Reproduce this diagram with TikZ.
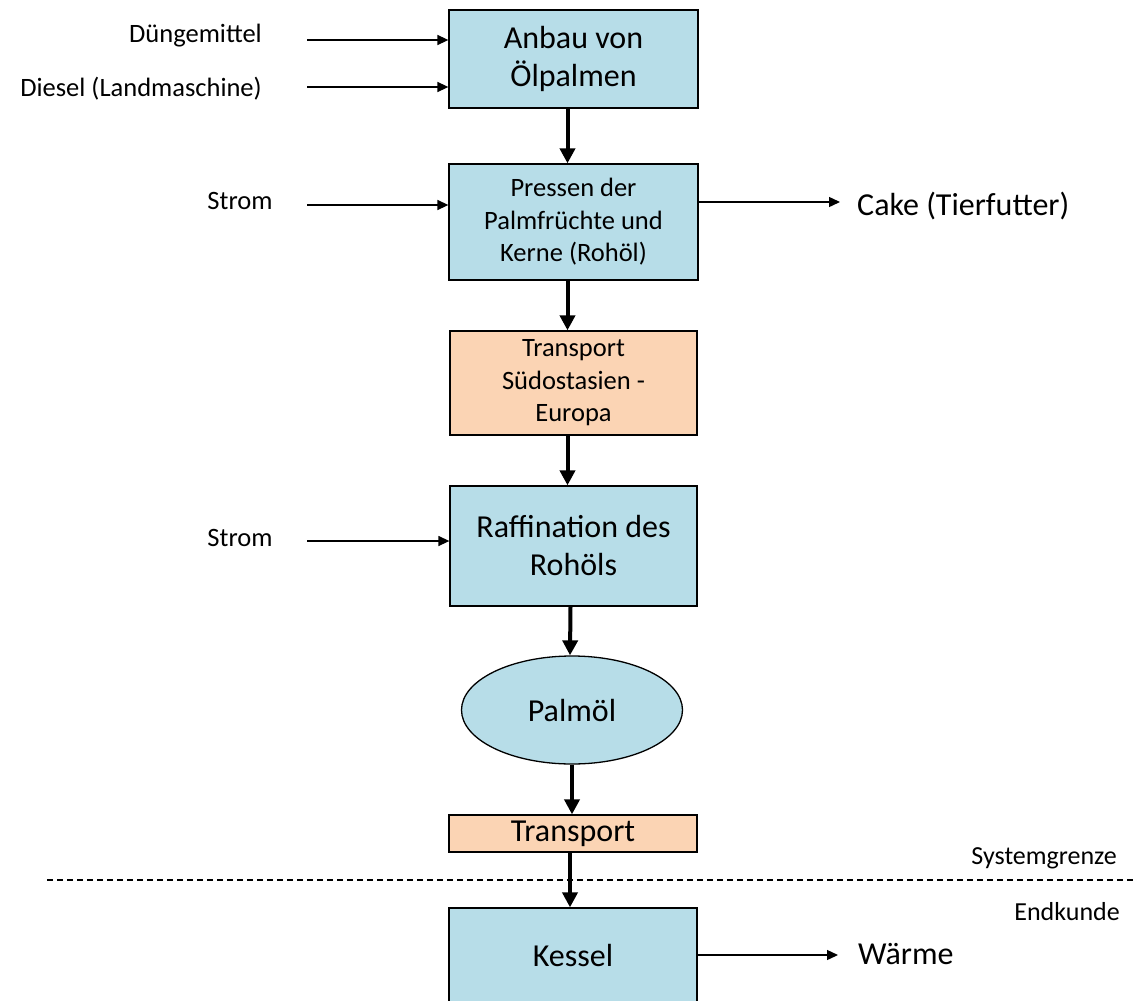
\documentclass[tikz,border=0pt]{standalone}
\usepackage{fontspec}
\setmainfont{Carlito}
\usetikzlibrary{arrows.meta,shapes.geometric}
\definecolor{boxblue}{HTML}{B7DDE8}
\definecolor{boxpeach}{HTML}{FBD4B4}
\tikzset{
  procbox/.style={draw=black, line width=1.3pt, fill=boxblue, align=center, inner sep=0pt},
  transbox/.style={procbox, fill=boxpeach},
  bigtext/.style={font=\fontsize{32}{38}\selectfont},
  smalltext/.style={font=\fontsize{26.5}{32.5}\selectfont},
  lbltext/.style={font=\fontsize{26.5}{30}\selectfont, inner sep=0pt},
  mainflow/.style={line width=4pt, -{Triangle[length=15pt,width=15pt]}},
  sideflow/.style={line width=1.4pt, -{Triangle[length=11pt,width=10pt]}},
}
\begin{document}
\begin{tikzpicture}[x=1pt,y=-1pt]
\clip (0,0) rectangle (1135,1001);
\fill[white] (0,0) rectangle (1135,1001);

\node[procbox, bigtext, minimum width=249pt, minimum height=98pt] (anbau) at (573.5,59) {Anbau von\\Ölpalmen};
\node[procbox, smalltext, minimum width=249pt, minimum height=116pt] (pressen) at (573.5,222) {Pressen der\\Palmfrüchte und\\Kerne (Rohöl)};
\node[transbox, smalltext, minimum width=247pt, minimum height=104pt] (trans1) at (573.5,383) {Transport\\Südostasien -\\Europa};
\node[procbox, bigtext, minimum width=247pt, minimum height=120pt] (raff) at (573.5,546) {Raffination des\\Rohöls};
\node[draw=black, line width=1.3pt, fill=boxblue, ellipse, inner sep=0pt, minimum width=221pt, minimum height=108pt, bigtext] (palm) at (572,710) {Palmöl};
\node[transbox, bigtext, minimum width=248pt, minimum height=37pt] (trans2) at (573,833.5) {Transport};
\node[procbox, bigtext, minimum width=248pt, minimum height=94pt] (kessel) at (573,955) {Kessel};

% inputs
\node[lbltext, anchor=east] (duen) at (262,36) {Düngemittel};
\node[lbltext, anchor=east] (diesel) at (262,89) {Diesel (Landmaschine)};
\node[lbltext] (strom1) at (240,201) {Strom};
\node[lbltext] (strom2) at (240,538) {Strom};
\coordinate (i1) at (307,40);
\coordinate (i2) at (307,87);
\coordinate (i3) at (307,205);
\coordinate (i4) at (307,541);
\draw[sideflow] (i1) -- (i1 -| anbau.west);
\draw[sideflow] (i2) -- (i2 -| anbau.west);
\draw[sideflow] (i3) -- (i3 -| pressen.west);
\draw[sideflow] (i4) -- (i4 -| raff.west);

% outputs
\node[bigtext, anchor=west, inner sep=0pt] (cake) at (857,206) {Cake (Tierfutter)};
\node[bigtext, anchor=west, inner sep=0pt] (waerme) at (858,954) {Wärme};
\coordinate (o1) at (698,202);
\coordinate (o1e) at (840,202);
\coordinate (o2) at (698,955);
\coordinate (o2e) at (838,955);
\draw[sideflow] (o1) -- (o1e);
\draw[sideflow] (o2) -- (o2e);

% main flow
\draw[mainflow] ([xshift=-6pt]anbau.south) -- ([xshift=-6pt]pressen.north);
\draw[mainflow] ([xshift=-6pt]pressen.south) -- ([xshift=-6pt]trans1.north);
\draw[mainflow] ([xshift=-6pt]trans1.south) -- ([xshift=-6pt]raff.north);
\draw[mainflow] ([xshift=-3pt]raff.south) -- ([xshift=-2pt]palm.north);
\draw[mainflow] (palm.south) -- ([xshift=-1pt]trans2.north);
\draw[mainflow] ([xshift=-3pt]trans2.south) -- ([xshift=-3pt]kessel.north);

% system boundary
\draw[line width=1.2pt, dash pattern=on 6pt off 4pt] (47,880) coordinate (sb1) -- (1135,880) coordinate (sb2);
\node[lbltext, font=\fontsize{26}{30}\selectfont, anchor=east] (sysg) at (1117,858) {Systemgrenze};
\node[lbltext, font=\fontsize{26}{30}\selectfont, anchor=east] (endk) at (1120,912) {Endkunde};
\end{tikzpicture}
\end{document}
